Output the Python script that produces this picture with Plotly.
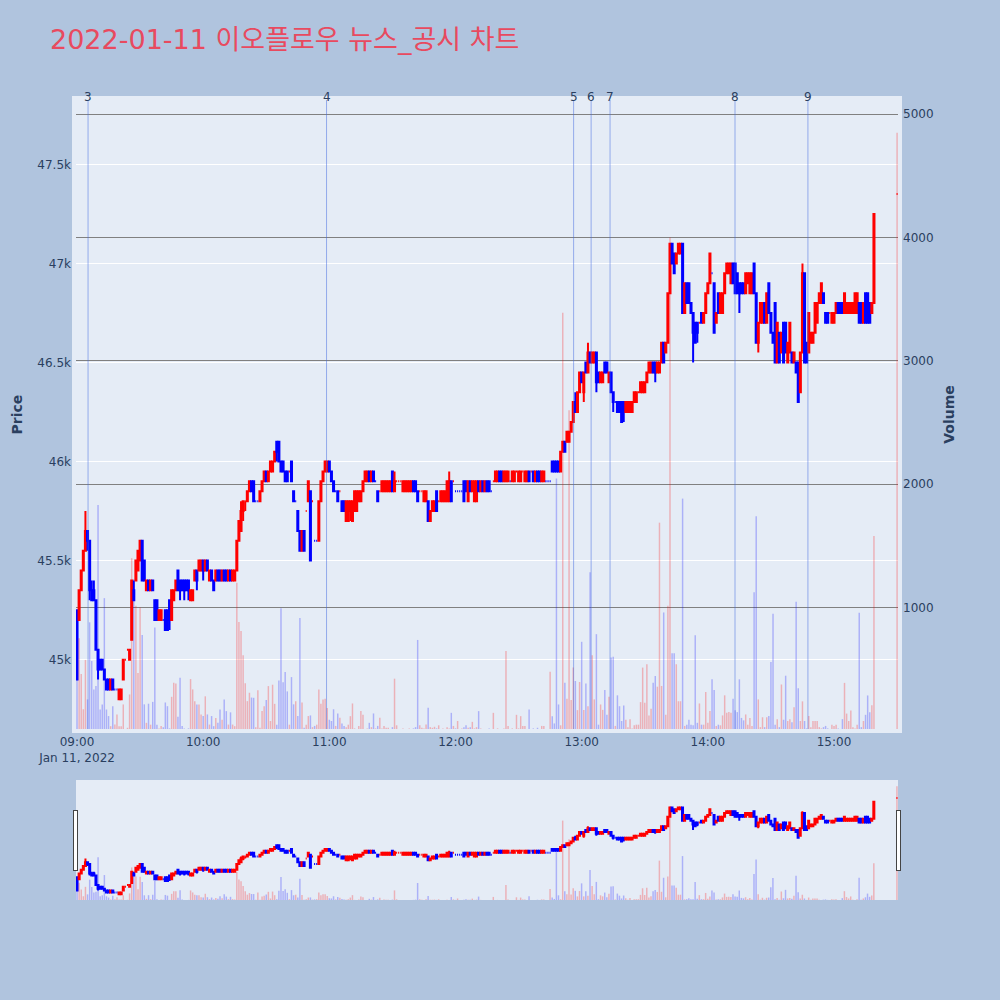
import pandas as pd
import plotly.graph_objects as go
from plotly.subplots import make_subplots

# one-minute bars 09:00 .. 15:19 plus the 15:30 closing auction
minute_times = list(pd.date_range("2022-01-11 09:00", "2022-01-11 15:19", freq="min"))
close_auction_time = [pd.Timestamp("2022-01-11 15:30")]
times = minute_times + close_auction_time

opens = [
    45250,45200,45350,45450,45550,45650,45600,45350,45350,45300,
    45050,45000,45000,44950,44900,44900,44850,44900,44850,44850,
    44800,44800,44900,45000,45050,45000,45100,45350,45400,45450,
    45500,45600,45500,45350,45400,45350,45400,45300,45300,45200,
    45200,45200,45250,45250,45300,45200,45300,45350,45450,45400,
    45400,45400,45400,45400,45300,45300,45400,45450,45450,45450,
    45500,45450,45500,45400,45450,45400,45400,45450,45450,45400,
    45450,45450,45400,45450,45400,45400,45450,45600,45650,45750,
    45800,45800,45850,45900,45900,45800,45800,45800,45850,45900,
    45950,45900,45950,45950,46000,46100,46100,46000,46000,45950,
    45950,45950,46000,45850,45800,45750,45650,45550,45650,45750,
    45800,45850,45800,45600,45600,45600,45800,45900,45950,45950,
    46000,45950,45900,45850,45850,45850,45800,45800,45700,45700,
    45750,45700,45750,45750,45800,45800,45850,45900,45900,45950,
    45900,45950,45900,45850,45850,45850,45850,45850,45850,45850,
    45950,45850,45900,45900,45900,45850,45850,45850,45850,45850,
    45900,45900,45850,45850,45850,45800,45800,45800,45700,45750,
    45750,45850,45800,45800,45800,45800,45800,45800,45900,45900,
    45850,45850,45850,45850,45900,45900,45800,45900,45850,45800,
    45800,45900,45850,45900,45850,45900,45900,45850,45900,45900,
    45900,45950,45950,45900,45900,45900,45900,45900,45900,45950,
    45900,45900,45950,45900,45900,45950,45950,45950,45900,45950,
    45950,45900,45900,45900,45900,45900,46000,46000,46000,46000,
    45950,46050,46100,46100,46100,46150,46200,46300,46250,46350,
    46450,46350,46500,46450,46550,46500,46500,46550,46450,46400,
    46400,46500,46500,46400,46450,46350,46300,46300,46300,46300,
    46300,46250,46250,46250,46250,46300,46300,46350,46350,46350,
    46350,46400,46450,46450,46500,46500,46450,46450,46500,46600,
    46550,46600,46850,47100,47050,47000,47050,47050,47100,46750,
    46900,46900,46800,46750,46700,46700,46700,46750,46700,46750,
    46850,46900,46950,46900,46700,46850,46750,46750,46850,46950,
    46950,46900,47000,47000,46950,46900,46900,46900,46850,46900,
    46850,46850,47000,46850,46600,46700,46700,46800,46700,46900,
    46750,46650,46800,46500,46650,46550,46700,46700,46500,46550,
    46550,46500,46500,46500,46350,46550,46950,46600,46550,46600,
    46600,46650,46700,46800,46800,46850,46750,46750,46750,46700,
    46700,46750,46800,46800,46800,46750,46750,46750,46750,46750,
    46750,46750,46800,46800,46700,46850,46850,46800,46750,46800,
    47350,
]

highs = [
    45250,45350,45450,45550,45750,45650,45600,45400,45400,45300,
    45050,45000,45000,44950,44900,44900,44900,44900,44850,44850,
    44850,44850,45000,45000,45050,45050,45400,45400,45500,45550,
    45600,45600,45500,45400,45400,45400,45400,45300,45300,45250,
    45250,45200,45250,45250,45300,45350,45350,45400,45450,45400,
    45400,45400,45400,45400,45350,45350,45450,45450,45500,45500,
    45500,45500,45500,45450,45450,45400,45450,45450,45450,45450,
    45450,45450,45450,45450,45450,45450,45600,45700,45800,45800,
    45800,45850,45900,45900,45900,45800,45800,45850,45900,45950,
    45950,45950,46000,46000,46050,46100,46100,46000,46000,45950,
    45950,45950,46000,45850,45800,45750,45650,45650,45650,45750,
    45900,45850,45800,45600,45600,45800,45900,45950,46000,46000,
    46000,45950,45900,45850,45850,45850,45800,45800,45800,45800,
    45800,45800,45850,45850,45850,45850,45900,45950,45950,45950,
    45950,45950,45900,45850,45850,45900,45900,45900,45900,45900,
    45950,45950,45900,45900,45900,45900,45900,45900,45900,45900,
    45900,45900,45850,45850,45850,45850,45850,45800,45750,45800,
    45800,45850,45800,45850,45850,45850,45900,45950,45900,45900,
    45850,45850,45850,45850,45900,45900,45900,45900,45900,45900,
    45900,45900,45900,45900,45900,45900,45900,45850,45900,45950,
    45950,45950,45950,45950,45950,45950,45900,45950,45950,45950,
    45950,45950,45950,45950,45950,45950,45950,45950,45950,45950,
    45950,45950,45950,45900,45900,45900,46000,46000,46000,46000,
    46050,46100,46100,46150,46150,46200,46300,46350,46350,46450,
    46450,46450,46500,46600,46550,46550,46550,46550,46450,46450,
    46450,46500,46500,46450,46450,46350,46300,46300,46300,46300,
    46300,46300,46300,46300,46300,46350,46350,46350,46400,46400,
    46400,46450,46500,46500,46500,46500,46500,46500,46600,46600,
    46600,46850,47100,47100,47050,47050,47100,47100,47100,46900,
    46900,46900,46800,46750,46700,46700,46700,46750,46750,46850,
    46900,47050,46950,46900,46750,46850,46850,46850,46950,47000,
    47000,47000,47000,47000,46950,46900,46900,46900,46950,46950,
    46950,46950,47000,46850,46700,46800,46800,46800,46850,46900,
    46750,46650,46800,46700,46650,46650,46700,46700,46600,46700,
    46550,46550,46500,46500,46550,47000,46950,46600,46750,46650,
    46650,46800,46800,46850,46900,46850,46750,46750,46750,46750,
    46750,46800,46800,46800,46800,46850,46800,46800,46800,46800,
    46850,46850,46800,46800,46800,46850,46850,46800,46800,47250,
    47350,
]

lows = [
    44900,45200,45350,45450,45550,45550,45300,45300,45300,45050,
    44900,44950,44950,44900,44850,44850,44850,44850,44850,44850,
    44800,44800,44900,45000,45050,45000,45100,45300,45400,45450,
    45500,45400,45400,45350,45350,45350,45350,45200,45200,45200,
    45200,45200,45150,45150,45150,45200,45300,45350,45350,45300,
    45350,45300,45350,45300,45300,45300,45400,45350,45450,45450,
    45400,45450,45450,45400,45400,45350,45400,45400,45400,45400,
    45400,45400,45400,45400,45400,45400,45450,45600,45650,45700,
    45750,45800,45850,45850,45800,45800,45800,45800,45850,45900,
    45900,45900,45950,45950,46000,46000,46000,45950,45950,45900,
    45900,45950,45900,45800,45800,45650,45550,45550,45550,45750,
    45800,45500,45800,45600,45600,45600,45800,45900,45950,45950,
    45950,45900,45850,45850,45800,45850,45750,45750,45700,45700,
    45700,45700,45750,45750,45800,45800,45850,45900,45900,45900,
    45900,45900,45900,45800,45850,45850,45850,45850,45850,45850,
    45850,45850,45900,45900,45900,45850,45850,45850,45850,45850,
    45850,45850,45800,45850,45850,45800,45800,45700,45700,45750,
    45750,45750,45800,45800,45800,45800,45800,45800,45800,45900,
    45850,45850,45850,45850,45800,45850,45800,45850,45850,45800,
    45800,45850,45850,45850,45850,45850,45850,45850,45900,45900,
    45900,45900,45900,45900,45900,45900,45900,45900,45900,45950,
    45900,45900,45950,45900,45900,45900,45950,45900,45900,45900,
    45900,45900,45900,45900,45900,45900,45950,45950,45950,45950,
    45950,46050,46050,46100,46100,46150,46200,46250,46250,46350,
    46400,46300,46450,46450,46500,46500,46500,46350,46400,46400,
    46400,46450,46450,46400,46350,46250,46300,46250,46250,46200,
    46200,46250,46250,46250,46250,46300,46300,46350,46350,46350,
    46350,46400,46450,46450,46450,46400,46450,46450,46500,46500,
    46550,46600,46850,47000,46950,47000,47050,47050,46750,46750,
    46800,46800,46750,46500,46600,46600,46700,46700,46700,46750,
    46850,46900,46950,46650,46700,46750,46750,46750,46850,46950,
    46950,46900,46900,46850,46850,46750,46850,46850,46850,46900,
    46850,46850,46850,46600,46550,46700,46700,46700,46700,46750,
    46650,46600,46500,46500,46500,46550,46500,46550,46500,46550,
    46500,46500,46450,46300,46350,46550,46500,46500,46550,46600,
    46600,46650,46700,46800,46800,46800,46700,46700,46750,46700,
    46700,46750,46750,46750,46750,46750,46750,46750,46750,46750,
    46750,46750,46700,46700,46700,46700,46700,46700,46750,46800,
    47350,
]

closes = [
    44900,45350,45450,45550,45650,45600,45350,45300,45300,45050,
    44950,44950,44950,44900,44850,44850,44900,44850,44850,44850,
    44850,44850,45000,45000,45050,45050,45400,45300,45500,45550,
    45600,45400,45400,45400,45350,45400,45350,45200,45200,45250,
    45250,45200,45150,45150,45200,45350,45350,45400,45350,45350,
    45350,45350,45350,45350,45350,45350,45450,45400,45500,45500,
    45450,45500,45450,45450,45400,45350,45450,45400,45400,45450,
    45400,45400,45450,45400,45450,45450,45600,45700,45750,45800,
    45800,45850,45900,45850,45800,45800,45800,45850,45900,45950,
    45900,45950,46000,46000,46050,46050,46000,45950,45950,45900,
    45900,45950,45900,45800,45800,45650,45550,45650,45550,45750,
    45900,45500,45800,45600,45600,45800,45900,45950,46000,46000,
    45950,45900,45850,45850,45800,45850,45750,45750,45800,45800,
    45800,45800,45850,45850,45850,45850,45900,45950,45950,45900,
    45950,45900,45900,45800,45850,45900,45900,45900,45900,45900,
    45850,45900,45900,45900,45900,45900,45900,45900,45900,45900,
    45850,45850,45800,45850,45850,45850,45850,45700,45750,45800,
    45800,45750,45800,45850,45850,45850,45900,45900,45800,45900,
    45850,45850,45850,45850,45800,45850,45900,45850,45900,45900,
    45900,45850,45900,45850,45900,45850,45850,45850,45900,45950,
    45950,45900,45900,45950,45950,45950,45900,45950,45950,45950,
    45950,45950,45950,45950,45950,45900,45950,45900,45950,45900,
    45900,45950,45950,45900,45900,45900,45950,45950,45950,45950,
    46050,46100,46050,46150,46150,46200,46300,46250,46350,46450,
    46400,46450,46450,46550,46500,46550,46550,46400,46400,46450,
    46450,46450,46450,46450,46350,46300,46300,46250,46250,46200,
    46250,46300,46300,46300,46300,46350,46350,46350,46400,46400,
    46400,46450,46500,46500,46450,46450,46500,46500,46600,46500,
    46600,46850,47100,47000,46950,47050,47100,47100,46750,46900,
    46800,46800,46750,46650,46600,46650,46700,46700,46750,46850,
    46900,47050,46950,46650,46750,46750,46850,46850,46950,47000,
    47000,47000,46900,46850,46850,46850,46850,46850,46950,46950,
    46950,46950,46850,46600,46700,46800,46800,46700,46850,46750,
    46650,46600,46500,46700,46500,46650,46500,46550,46600,46700,
    46500,46550,46450,46300,46550,46950,46500,46500,46750,46650,
    46650,46800,46800,46850,46900,46800,46700,46700,46750,46750,
    46750,46800,46750,46750,46750,46850,46800,46800,46800,46800,
    46850,46850,46700,46700,46800,46700,46700,46700,46800,47250,
    47350,
]

volumes = [
    740,750,460,175,575,255,880,566,336,363,
    1832,173,214,1076,173,120,38,200,51,133,
    38,38,214,11,25,295,1400,1230,1015,470,
    1000,778,215,65,220,50,235,838,50,20,
    40,30,230,200,20,276,390,383,114,430,
    40,20,10,20,420,336,240,214,214,133,
    120,280,133,51,120,38,105,65,173,90,
    255,160,51,150,51,38,1200,883,810,612,
    385,241,309,270,268,30,330,25,160,200,
    250,363,80,374,219,50,409,995,395,477,
    320,50,436,215,240,120,916,230,25,50,
    120,125,30,40,50,336,220,255,260,185,
    90,80,175,40,140,106,60,40,30,50,
    119,222,20,10,40,160,130,10,20,65,
    30,141,20,40,106,20,40,25,25,15,
    30,423,45,10,10,20,15,10,20,10,
    20,30,737,45,25,20,52,187,30,25,
    33,20,45,10,20,15,30,20,146,40,
    20,80,10,20,30,45,25,30,73,20,
    30,160,20,10,15,10,20,10,146,10,
    20,10,10,20,648,40,10,20,10,130,
    20,119,40,40,10,173,10,20,15,25,
    10,40,40,10,10,480,119,60,2046,214,
    45,3390,390,260,2600,250,513,404,168,396,
    722,170,383,200,1286,613,255,784,50,214,
    170,331,130,277,594,600,40,288,200,80,
    206,90,30,95,20,45,50,50,233,513,
    228,540,125,179,391,445,358,1688,364,960,
    130,1015,4000,629,629,540,240,240,1883,40,
    50,90,50,45,776,65,222,50,50,315,
    65,160,418,331,40,50,45,125,288,146,
    152,146,260,168,152,418,105,85,133,50,
    105,40,1123,1739,255,30,110,30,110,120,
    558,950,50,95,30,376,90,447,80,95,
    70,191,1046,345,80,239,80,20,120,30,
    80,80,80,30,20,30,40,20,15,50,
    40,50,20,15,95,389,140,80,166,30,
    20,50,957,30,80,130,287,150,207,1579,
    4850,
]

# news / disclosure markers
news_labels = ["3", "4", "5", "6", "7", "8", "9"]
news_times = [
    "2022-01-11 09:05:15", "2022-01-11 10:58:40", "2022-01-11 12:56:10",
    "2022-01-11 13:04:30", "2022-01-11 13:13:30", "2022-01-11 14:12:55",
    "2022-01-11 14:47:36",
]

price_ticks = [45000, 45500, 46000, 46500, 47000, 47500]
volume_ticks = [0, 1000, 2000, 3000, 4000, 5000]

UP, DOWN = "#FF0000", "#0000FF"

# volume colour follows candle direction
vol_colors = []
prev_close = None
for o, c in zip(opens, closes):
    if c > o:
        up = True
    elif c < o:
        up = False
    else:
        up = True if prev_close is None else c >= prev_close
    vol_colors.append("rgba(255,0,0,0.25)" if up else "rgba(0,0,255,0.25)")
    prev_close = c

fig = make_subplots(specs=[[{"secondary_y": True}]])

fig.add_trace(
    go.Candlestick(
        x=times, open=opens, high=highs, low=lows, close=closes,
        increasing=dict(line=dict(color=UP, width=2), fillcolor=UP),
        decreasing=dict(line=dict(color=DOWN, width=2), fillcolor=DOWN),
        name="Price", showlegend=False,
    ),
    secondary_y=False,
)
fig.add_trace(
    go.Bar(
        x=times, y=volumes, marker=dict(color=vol_colors, line=dict(width=0)),
        name="Volume", showlegend=False,
    ),
    secondary_y=True,
)

for lab, t in zip(news_labels, news_times):
    fig.add_shape(type="line", xref="x", yref="paper", x0=t, x1=t, y0=0, y1=1,
                  line=dict(color="rgba(65,105,225,0.5)", width=1))
    fig.add_annotation(x=t, xref="x", y=1.0, yref="paper", text=lab, showarrow=False,
                       yanchor="middle", xanchor="center", yshift=3,
                       font=dict(size=12, color="#2a3f5f"))

FONT = "DejaVu Sans, Noto Sans CJK KR, sans-serif"

fig.update_layout(
    width=1000, height=1000,
    paper_bgcolor="lightsteelblue",
    plot_bgcolor="#E5ECF6",
    font=dict(family=FONT, size=12, color="#2a3f5f"),
    margin=dict(l=76, r=102, t=100, b=100, pad=4),
    title=dict(text="2022-01-11 이오플로우 뉴스_공시 차트", x=0.05, xanchor="left",
               y=0.96, yanchor="middle",
               font=dict(size=27, color="#E84A5F", family=FONT)),
    showlegend=False,
    bargap=0.3,
)
fig.update_xaxes(
    domain=[0, 1],
    range=["2022-01-11 08:59:31", "2022-01-11 15:30:26"],
    showgrid=False,
    rangeslider=dict(visible=True, thickness=0.15, bgcolor="#E5ECF6"),
)
fig.update_yaxes(
    title=dict(text="Price", font=dict(size=14, weight="bold")),
    range=[44650, 47825], tickvals=price_ticks, showgrid=True, gridcolor="white",
    secondary_y=False,
)
fig.update_yaxes(
    title=dict(text="Volume", font=dict(size=14, weight="bold")),
    range=[15, 5115], tickvals=volume_ticks, showgrid=True, gridcolor="gray",
    secondary_y=True,
)

fig.write_html("out.html", config={"displayModeBar": False},
               post_script="document.body.style.margin='0';")
